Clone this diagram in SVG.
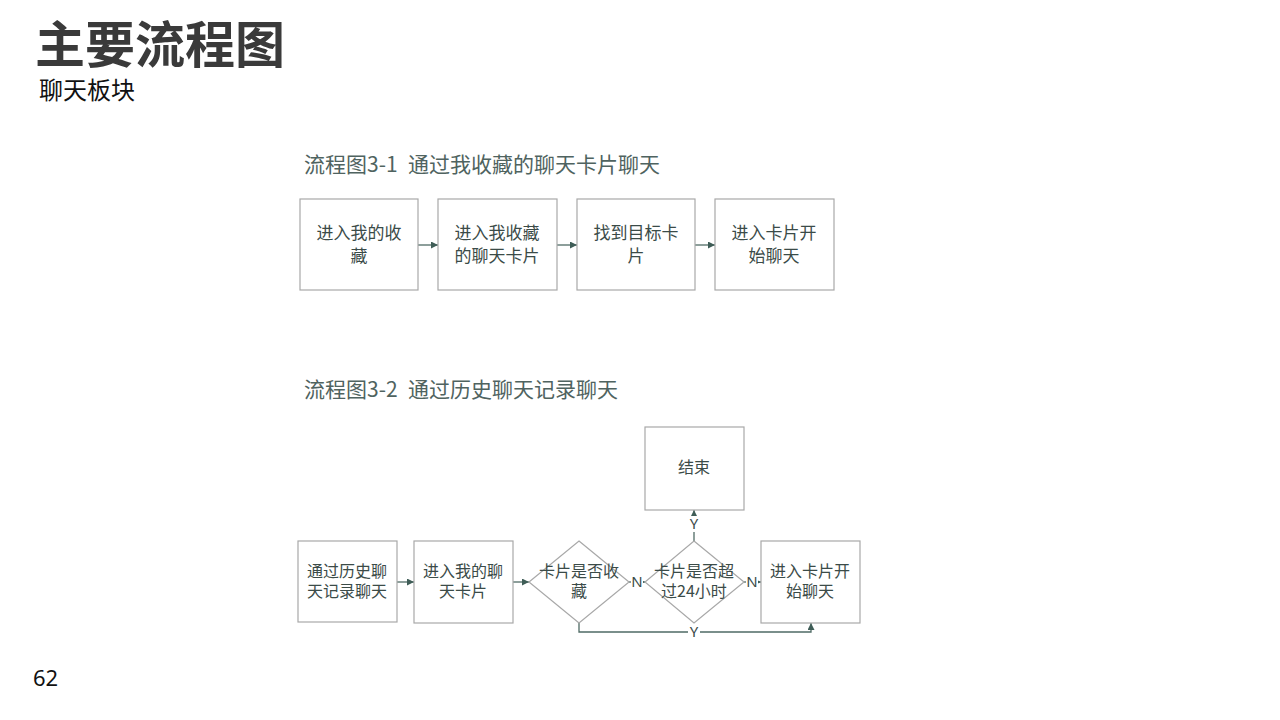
<svg xmlns="http://www.w3.org/2000/svg" width="1280" height="720" viewBox="0 0 1280 720">
<defs>
<marker id="ah" viewBox="0 0 8 8" refX="8" refY="4" markerWidth="7" markerHeight="7" markerUnits="userSpaceOnUse" orient="auto">
<path d="M0,0 L8,4 L0,8 Z" fill="#3f5d57"/>
</marker>
<style>
.box{fill:#ffffff;stroke:#a8a8a8;stroke-width:1.2}
.t{font-family:"Noto Sans CJK SC","Noto Sans",sans-serif;font-size:16px;fill:#3b4b48;text-anchor:middle}
.t1{font-family:"Noto Sans CJK SC","Noto Sans",sans-serif;font-size:17px;fill:#3b4b48;text-anchor:middle}
.cap{font-family:"Noto Sans CJK SC","Noto Sans",sans-serif;font-size:21px;fill:#4f6360}
.ln{fill:none;stroke:#4f6b65;stroke-width:1.3}
.lbl{font-family:"Noto Sans","Noto Sans CJK SC",sans-serif;font-size:15px;fill:#3b4b48;text-anchor:middle}
</style>
</defs>
<rect width="1280" height="720" fill="#ffffff"/>
<text x="35" y="63" font-family="Noto Sans CJK SC,sans-serif" font-weight="bold" font-size="50" fill="#3a3a3a">主要流程图</text>
<text x="39" y="99" font-family="Noto Sans CJK SC,sans-serif" font-size="24" fill="#111111">聊天板块</text>
<text x="33" y="686" font-family="Noto Sans,sans-serif" font-size="22" fill="#111111">62</text>

<text class="cap" x="304" y="172">流程图3-1<tspan x="408">通过我收藏的聊天卡片聊天</tspan></text>
<text class="cap" x="304" y="397">流程图3-2<tspan x="408">通过历史聊天记录聊天</tspan></text>

<g id="connectors">
<line class="ln" x1="418" y1="245" x2="438" y2="245" marker-end="url(#ah)"/>
<line class="ln" x1="557" y1="245" x2="577" y2="245" marker-end="url(#ah)"/>
<line class="ln" x1="695" y1="245" x2="715" y2="245" marker-end="url(#ah)"/>
<line class="ln" x1="397" y1="582" x2="414" y2="582" marker-end="url(#ah)"/>
<line class="ln" x1="513" y1="582" x2="529" y2="582" marker-end="url(#ah)"/>
<line class="ln" x1="629" y1="582" x2="645" y2="582" marker-end="url(#ah)"/>
<line class="ln" x1="744" y1="582" x2="761" y2="582" marker-end="url(#ah)"/>
<line class="ln" x1="694" y1="541" x2="694" y2="510" marker-end="url(#ah)"/>
<polyline class="ln" points="579,623 579,632 811,632 811,623" marker-end="url(#ah)"/>
<rect x="631" y="574" width="12" height="16" fill="#ffffff"/>
<text class="lbl" x="637" y="587">N</text>
<rect x="746" y="574" width="12" height="16" fill="#ffffff"/>
<text class="lbl" x="752" y="587">N</text>
<rect x="688" y="516" width="12" height="16" fill="#ffffff"/>
<text class="lbl" x="694" y="529">Y</text>
<rect x="688" y="624" width="12" height="16" fill="#ffffff"/>
<text class="lbl" x="694" y="637">Y</text>
</g>

<g id="n1"><rect class="box" x="300" y="199" width="118" height="91"/><text class="t1" x="359" y="239">进入我的收</text><text class="t1" x="359" y="262">藏</text></g>
<g id="n2"><rect class="box" x="438" y="199" width="119" height="91"/><text class="t1" x="497" y="239">进入我收藏</text><text class="t1" x="497" y="262">的聊天卡片</text></g>
<g id="n3"><rect class="box" x="577" y="199" width="118" height="91"/><text class="t1" x="636" y="239">找到目标卡</text><text class="t1" x="636" y="262">片</text></g>
<g id="n4"><rect class="box" x="715" y="199" width="119" height="91"/><text class="t1" x="774" y="239">进入卡片开</text><text class="t1" x="774" y="262">始聊天</text></g>

<g id="m1"><rect class="box" x="298" y="541" width="99" height="81"/><text class="t" x="347" y="577">通过历史聊</text><text class="t" x="347" y="597">天记录聊天</text></g>
<g id="m2"><rect class="box" x="414" y="541" width="99" height="82"/><text class="t" x="463" y="577">进入我的聊</text><text class="t" x="463" y="597">天卡片</text></g>
<g id="d1"><polygon class="box" points="579,541 629,582 579,623 529,582"/><text class="t" x="579" y="577">卡片是否收</text><text class="t" x="579" y="597">藏</text></g>
<g id="d2"><polygon class="box" points="694,541 744,582 694,623 645,582"/><text class="t" x="694" y="577">卡片是否超</text><text class="t" x="694" y="597">过24小时</text></g>
<g id="m3"><rect class="box" x="761" y="541" width="99" height="82"/><text class="t" x="810" y="577">进入卡片开</text><text class="t" x="810" y="597">始聊天</text></g>
<g id="end"><rect class="box" x="645" y="427" width="99" height="83"/><text class="t" x="694" y="473">结束</text></g>
</svg>
